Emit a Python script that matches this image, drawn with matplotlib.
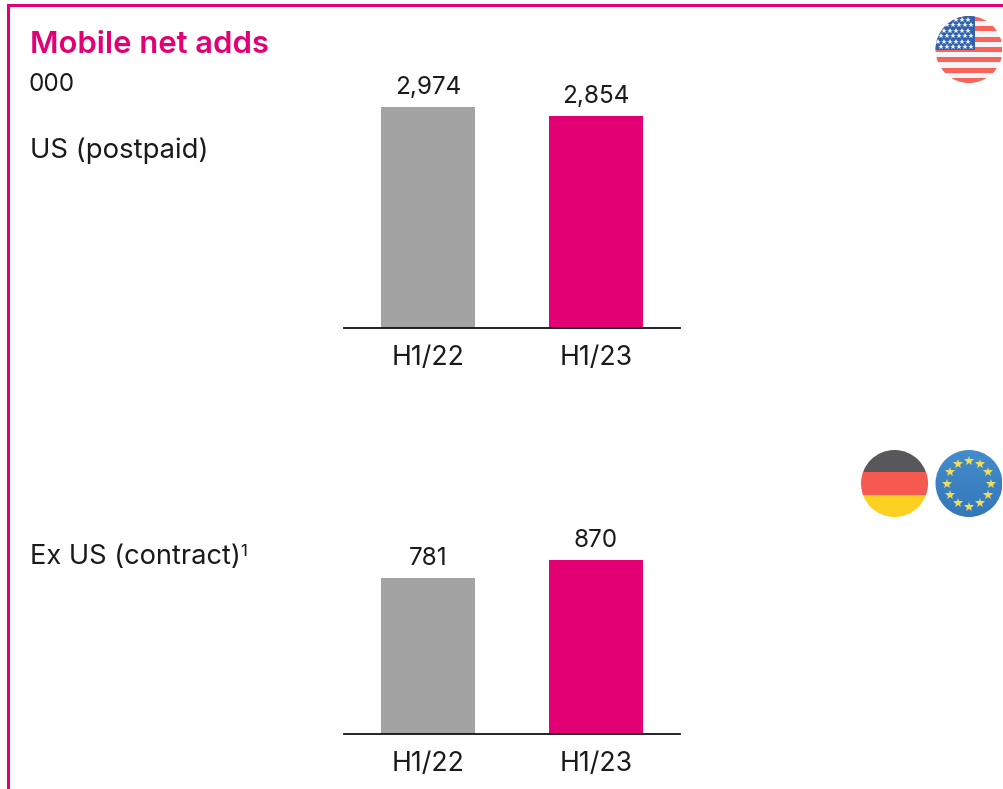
import matplotlib
matplotlib.use("Agg")
import matplotlib.pyplot as plt
from matplotlib.patches import Circle, Rectangle
import numpy as np

periods = ["H1/22", "H1/23"]
us_values = [2974, 2854]
exus_values = [781, 870]
bar_colors = ["#a3a3a3", "#e20074"]
MAGENTA = "#e20074"
W, H = 1004, 789
FONT = "Inter"
plt.rcParams["font.family"] = [FONT, "DejaVu Sans"]

fig = plt.figure(figsize=(W / 100, H / 100), dpi=100, facecolor="white")

bg = fig.add_axes([0, 0, 1, 1])
bg.set_xlim(0, W)
bg.set_ylim(H, 0)
bg.axis("off")

# frame
bg.add_patch(Rectangle((7, 3.5), W, 3.5, color=MAGENTA, lw=0))
bg.add_patch(Rectangle((7, 3.5), 3.4, H, color=MAGENTA, lw=0))

TXT = "#1a1a1a"
bg.text(30, 45, "Mobile net adds", color=MAGENTA, fontsize=22.3, fontweight="semibold", va="center", ha="left")
bg.text(29, 84.5, "000", color=TXT, fontsize=17.5, va="center", ha="left")
bg.text(30, 151, "US (postpaid)", color=TXT, fontsize=19.8, va="center", ha="left")
bg.text(30, 556.5, "Ex US (contract)", color=TXT, fontsize=19.6, va="center", ha="left")
bg.text(240, 552, "1", color=TXT, fontsize=12, va="center", ha="left")


def panel(values, base_px, scale):
    ax = fig.add_axes([344 / W, 1 - base_px / H, 336 / W, 300 / H])
    ax.patch.set_alpha(0)
    ax.bar(range(2), values, width=94 / 168, color=bar_colors)
    ax.set_xlim(-0.5, 1.5)
    ax.set_ylim(0, 300 / scale)
    for s in ["top", "left", "right"]:
        ax.spines[s].set_visible(False)
    ax.spines["bottom"].set_linewidth(1.3)
    ax.spines["bottom"].set_color("#111111")
    ax.set_yticks([])
    ax.set_xticks(range(2), periods)
    ax.tick_params(axis="x", length=0, pad=12, labelsize=19.2, labelcolor=TXT)
    for i, v in enumerate(values):
        ax.annotate(f"{v:,}", (i, v), xytext=(0, 6), textcoords="offset points",
                    ha="center", va="bottom", fontsize=17.5, color=TXT)


panel(us_values, 328, 221 / 2974)
panel(exus_values, 734, 156 / 781)


def clip_rect(cx, cy, r, x0, y0, w, h, color):
    clip = Circle((cx, cy), r, transform=bg.transData)
    p = Rectangle((x0, y0), w, h, color=color, lw=0)
    bg.add_patch(p)
    p.set_clip_path(clip)
    return p


# US flag
cx, cy, r = 969, 49.5, 33.5
stripes = ["#f8635a", "#f4f4f6"]
sh = 2 * r / 13
for i in range(13):
    clip_rect(cx, cy, r, cx - r, cy - r + i * sh, 2 * r, sh + 0.3, stripes[i % 2])
clip_rect(cx, cy, r, cx - r, cy - r, r + 6, r + 0.5, "#2f62ad")
for row in range(6):
    for col in range(7):
        sx = cx - r + 3 + col * 6 + (row % 2) * 3
        sy = cy - r + 4 + row * 5.4
        if sx < cx + 4 and (sx - cx) ** 2 + (sy - cy) ** 2 < (r - 1) ** 2:
            bg.plot([sx], [sy], marker="*", ms=4.2, color="#eef2fa", mew=0)

# German flag
cx, cy, r = 894.5, 483.5, 33.5
for i, c in enumerate(["#58585c", "#f5594f", "#fdd021"]):
    clip_rect(cx, cy, r, cx - r, cy - r + i * 2 * r / 3, 2 * r, 2 * r / 3 + 0.3, c)

# EU flag
cx, cy, r = 969, 483.5, 33.5
grad = np.linspace(0, 1, 64)[:, None]
top, bottom = np.array([0.27, 0.55, 0.80]), np.array([0.20, 0.47, 0.73])
img = bg.imshow((top + (bottom - top) * grad)[:, None, :].squeeze()[:, None, :],
                extent=(cx - r, cx + r, cy + r, cy - r), aspect="auto", zorder=1)
img.set_clip_path(Circle((cx, cy), r, transform=bg.transData))
bg.set_xlim(0, W)
bg.set_ylim(H, 0)
for a in np.arange(0, 360, 30):
    bg.plot([cx + 22 * np.cos(np.radians(a))], [cy + 23 * np.sin(np.radians(a))],
            marker="*", ms=7, color="#efdc5a", mew=0, zorder=2)

fig.savefig("out.png", dpi=100, facecolor="white")
